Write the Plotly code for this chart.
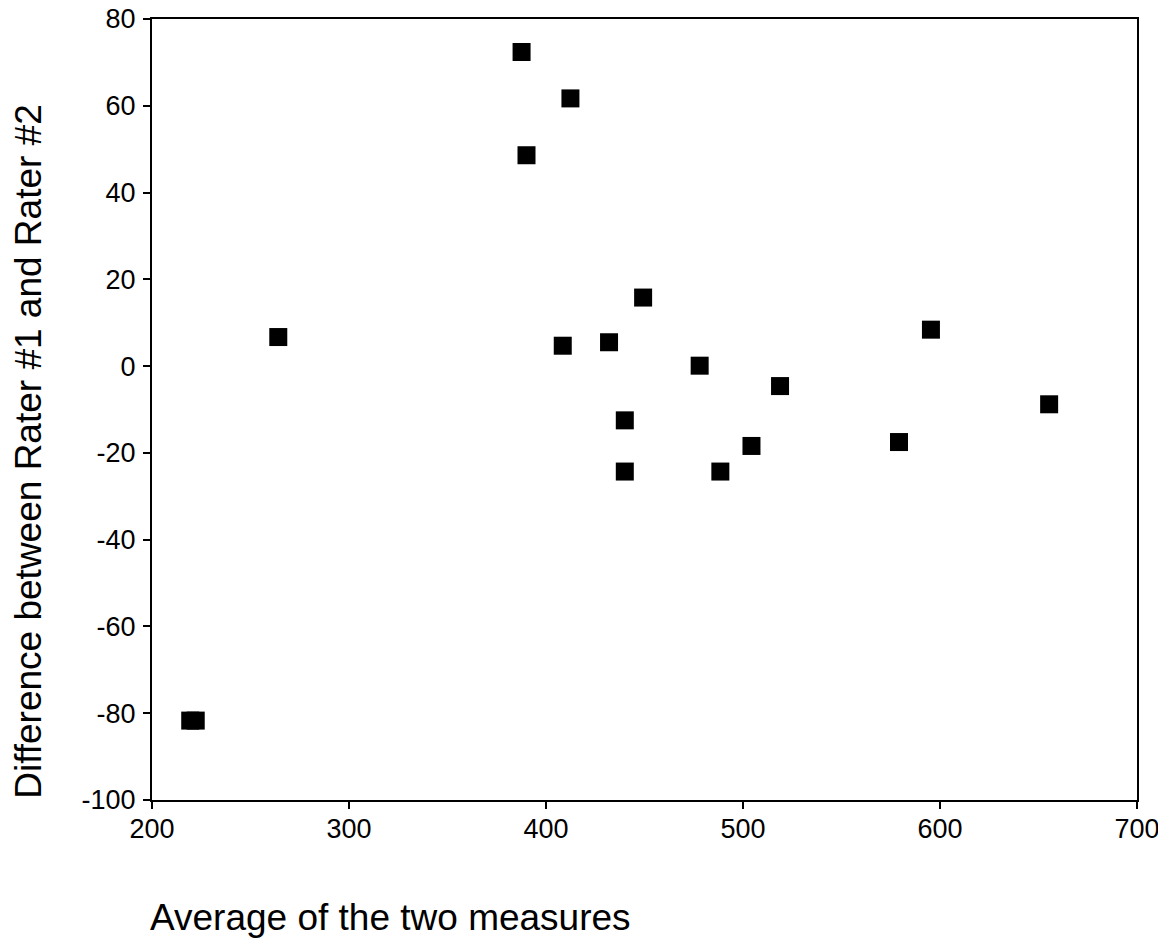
import plotly.graph_objects as go

# Bland-Altman style data: average of two measures vs difference
avg_measures = [387.6, 412.4, 390.1, 449.3, 264.1, 408.5, 432.0, 478.0, 518.8,
                595.4, 440.0, 440.0, 488.5, 504.3, 579.2, 655.4, 219.4, 222.2]
diff_raters = [72.4, 61.7, 48.6, 15.8, 6.7, 4.7, 5.5, 0.1, -4.6,
               8.4, -12.5, -24.3, -24.3, -18.4, -17.5, -8.8, -81.7, -81.7]

x_ticks = [200, 300, 400, 500, 600, 700]
y_ticks = [80, 60, 40, 20, 0, -20, -40, -60, -80, -100]

x_title = "Average of the two measures"
y_title = "Difference between Rater #1 and Rater #2"

FONT = "Liberation Sans, Arial, sans-serif"

fig = go.Figure()
fig.add_trace(go.Scatter(
    x=avg_measures, y=diff_raters, mode="markers",
    marker=dict(symbol="square", size=18, color="black",
                line=dict(width=0)),
    showlegend=False, hoverinfo="x+y",
))

axis_common = dict(
    showline=True, linecolor="black", linewidth=2, mirror=True,
    ticks="outside", ticklen=7, tickwidth=2, tickcolor="black",
    showgrid=False, zeroline=False, automargin=False,
    ticklabeloverflow="allow",
    tickfont=dict(family=FONT, size=27, color="black"),
)

fig.update_xaxes(range=[200, 700], tickvals=x_ticks,
                 ticktext=[str(v) for v in x_ticks],
                 ticklabelstandoff=-3, **axis_common)
fig.update_yaxes(range=[-100, 80], tickvals=y_ticks,
                 ticktext=[str(v) for v in y_ticks],
                 ticklabelstandoff=2, **axis_common)

# page body adds an 8px offset; figure sized to fit the window
W, H = 1158, 932
L, R, T, B = 144, 28.5, 11, 139.5
pw, ph = W - L - R, H - T - B

def px_to_paper_x(px):
    return (px - 8 - L) / pw

def px_to_paper_y(py):
    return (H - B - (py - 8)) / ph

fig.add_annotation(text=x_title, xref="paper", yref="paper",
                   x=px_to_paper_x(148), y=px_to_paper_y(918),
                   xanchor="left", yanchor="middle", showarrow=False,
                   font=dict(family=FONT, size=37, color="black"))
fig.add_annotation(text=y_title, xref="paper", yref="paper",
                   x=px_to_paper_x(29), y=px_to_paper_y(452),
                   xanchor="center", yanchor="middle",
                   textangle=-90, showarrow=False,
                   font=dict(family=FONT, size=37, color="black"))

fig.update_layout(
    width=W, height=H,
    margin=dict(l=L, r=R, t=T, b=B, autoexpand=False),
    paper_bgcolor="white", plot_bgcolor="white",
    font=dict(family=FONT, color="black"),
)

fig.write_html("out.html")
